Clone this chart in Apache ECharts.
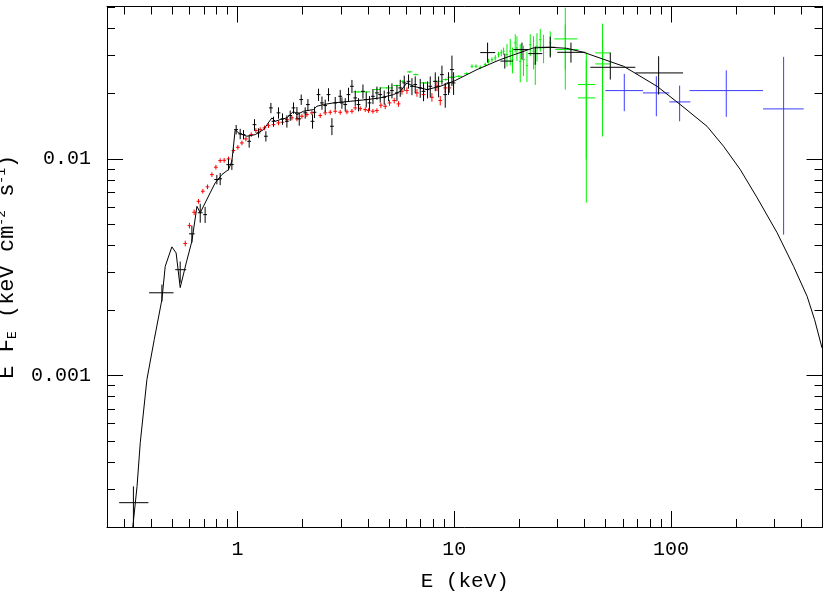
<!DOCTYPE html>
<html>
<head>
<meta charset="utf-8">
<title>E F_E spectrum</title>
<script src="https://cdn.jsdelivr.net/npm/echarts@6/dist/echarts.min.js"></script>
<style>
  html, body { margin: 0; padding: 0; background: #fff; }
  #main { width: 830px; height: 595px; }
</style>
</head>
<body>
<div id="main"></div>
<script>
// model curve (keV, keV cm^-2 s^-1)
var modelE = [0.328, 0.344, 0.356, 0.382, 0.413, 0.448, 0.464, 0.498, 0.521, 0.544, 0.580, 0.616,
  0.650, 0.673, 0.748, 0.789, 0.848, 0.909, 0.942, 0.976, 1.01, 1.105, 1.207, 1.318, 1.441, 1.493,
  1.574, 1.690, 1.813, 1.880, 2.017, 2.242, 2.325, 2.494, 2.773, 3.312, 3.955, 4.555, 5.248, 5.633,
  6.05, 6.49, 7.48, 8.62, 9.93, 11.45, 12.73, 16.31, 23.2, 27.7, 33.1, 39.5, 60.45, 86.19, 110.4,
  146.6, 174.8, 208.8, 249.4, 308.4, 367.9, 424.6, 459.8, 497.6];
var modelF = [0.000195, 0.000308, 0.000491, 0.000959, 0.001466, 0.002244, 0.00319, 0.003926, 0.00368,
  0.002547, 0.00331, 0.00417, 0.00604, 0.00564, 0.00697, 0.00775, 0.00847, 0.00893, 0.00975, 0.01365,
  0.01318, 0.01272, 0.01294, 0.01365, 0.01546, 0.01491, 0.01518, 0.01546, 0.01659, 0.01601, 0.01659,
  0.01689, 0.01749, 0.01781, 0.01813, 0.01844, 0.01878, 0.01912, 0.0198, 0.0205, 0.02242, 0.02163,
  0.02089, 0.02163, 0.0228, 0.02449, 0.02583, 0.02872, 0.03253, 0.03273, 0.03238, 0.03104, 0.02675,
  0.02163, 0.01781, 0.01414, 0.01143, 0.00892, 0.00663, 0.00457, 0.00319, 0.00232, 0.00181, 0.00134];

// small crosses: [E, F, relative error in E, relative error in F]
var blackPts = [
  [0.616, 0.00451, 0.03, 0.09], [0.673, 0.00564, 0.026, 0.1], [0.709, 0.00553, 0.02, 0.085],
  [0.803, 0.00803, 0.027, 0.05], [0.832, 0.00809, 0.02, 0.065], [0.909, 0.00941, 0.022, 0.06],
  [0.942, 0.00941, 0.02, 0.055], [0.986, 0.01365, 0.02, 0.05], [1.029, 0.01304, 0.02, 0.055],
  [1.066, 0.01294, 0.02, 0.05], [1.132, 0.01205, 0.02, 0.065], [1.198, 0.01439, 0.02, 0.06],
  [1.250, 0.01318, 0.02, 0.05], [1.352, 0.01272, 0.02, 0.055], [1.426, 0.01719, 0.02, 0.055],
  [1.466, 0.01491, 0.02, 0.05], [1.546, 0.01631, 0.02, 0.06], [1.613, 0.01530, 0.02, 0.06],
  [1.690, 0.01491, 0.02, 0.065], [1.751, 0.01585, 0.02, 0.055], [1.813, 0.01719, 0.02, 0.06],
  [1.880, 0.01631, 0.02, 0.065], [1.927, 0.01530, 0.02, 0.07], [1.968, 0.01878, 0.02, 0.055],
  [2.053, 0.01631, 0.02, 0.06], [2.113, 0.01781, 0.02, 0.06], [2.219, 0.01491, 0.02, 0.075],
  [2.267, 0.01641, 0.02, 0.06], [2.365, 0.01980, 0.02, 0.065], [2.453, 0.01813, 0.02, 0.07],
  [2.539, 0.01762, 0.02, 0.065], [2.630, 0.01980, 0.02, 0.07], [2.727, 0.01414, 0.02, 0.09],
  [2.824, 0.01813, 0.02, 0.065], [2.978, 0.01945, 0.02, 0.07], [3.032, 0.01813, 0.02, 0.06],
  [3.141, 0.01781, 0.02, 0.07], [3.252, 0.01980, 0.02, 0.075], [3.373, 0.02163, 0.02, 0.07],
  [3.493, 0.01912, 0.02, 0.08], [3.617, 0.01781, 0.02, 0.07], [3.791, 0.02050, 0.02, 0.075],
  [3.926, 0.01878, 0.02, 0.08], [4.066, 0.01813, 0.02, 0.075], [4.216, 0.01945, 0.02, 0.08],
  [4.398, 0.02016, 0.02, 0.07], [4.555, 0.01980, 0.02, 0.08], [4.753, 0.01924, 0.02, 0.075],
  [4.977, 0.02016, 0.02, 0.085], [5.160, 0.02066, 0.02, 0.08], [5.440, 0.02016, 0.02, 0.085],
  [5.634, 0.02126, 0.02, 0.09], [5.879, 0.02242, 0.02, 0.08], [6.154, 0.02280, 0.02, 0.075],
  [6.380, 0.02163, 0.02, 0.09], [6.607, 0.02203, 0.02, 0.09], [6.968, 0.02126, 0.02, 0.1],
  [7.216, 0.02050, 0.02, 0.1], [7.530, 0.02089, 0.02, 0.09], [7.750, 0.02163, 0.02, 0.11],
  [8.175, 0.02280, 0.02, 0.1], [8.468, 0.02163, 0.02, 0.11], [8.775, 0.02449, 0.02, 0.1],
  [9.088, 0.01980, 0.02, 0.13], [9.412, 0.02242, 0.02, 0.12], [9.759, 0.02583, 0.02, 0.16],
  [9.930, 0.02242, 0.02, 0.12]
];
var redPts = [
  [0.574, 0.00407, 0.02, 0.03], [0.600, 0.00492, 0.02, 0.03], [0.631, 0.00567, 0.02, 0.03],
  [0.661, 0.00637, 0.02, 0.025], [0.692, 0.00709, 0.02, 0.025], [0.727, 0.00743, 0.02, 0.025],
  [0.762, 0.00846, 0.02, 0.025], [0.795, 0.00915, 0.02, 0.025], [0.832, 0.00982, 0.02, 0.025],
  [0.868, 0.00985, 0.02, 0.025], [0.909, 0.0100, 0.02, 0.025], [0.958, 0.01092, 0.02, 0.025],
  [1.004, 0.01131, 0.02, 0.025], [1.048, 0.01185, 0.02, 0.025], [1.093, 0.01237, 0.02, 0.025],
  [1.157, 0.01294, 0.02, 0.025], [1.216, 0.01351, 0.02, 0.025], [1.273, 0.01365, 0.02, 0.025],
  [1.332, 0.0139, 0.02, 0.025], [1.390, 0.01424, 0.02, 0.025], [1.466, 0.01439, 0.02, 0.025],
  [1.546, 0.01466, 0.02, 0.025], [1.613, 0.01476, 0.02, 0.025], [1.690, 0.01518, 0.02, 0.025],
  [1.782, 0.01546, 0.02, 0.025], [1.880, 0.0153, 0.02, 0.025], [1.983, 0.01573, 0.02, 0.025],
  [2.091, 0.01601, 0.02, 0.025], [2.204, 0.01631, 0.02, 0.025], [2.408, 0.01585, 0.02, 0.025],
  [2.539, 0.01631, 0.02, 0.025], [2.678, 0.01641, 0.02, 0.025], [2.824, 0.01659, 0.02, 0.025],
  [2.978, 0.01641, 0.02, 0.025], [3.198, 0.01648, 0.02, 0.025], [3.373, 0.01659, 0.02, 0.025],
  [3.493, 0.01719, 0.02, 0.025], [3.684, 0.01706, 0.02, 0.025], [3.885, 0.01689, 0.02, 0.025],
  [4.023, 0.01671, 0.02, 0.025], [4.216, 0.01659, 0.02, 0.025], [4.398, 0.01671, 0.02, 0.025],
  [4.588, 0.01768, 0.02, 0.03], [4.804, 0.01749, 0.02, 0.03], [5.028, 0.01813, 0.02, 0.03],
  [5.285, 0.01858, 0.02, 0.03], [5.534, 0.01794, 0.02, 0.03], [5.737, 0.0205, 0.02, 0.035],
  [6.050, 0.02066, 0.02, 0.035], [6.729, 0.02016, 0.02, 0.04], [7.216, 0.0198, 0.02, 0.045],
  [7.888, 0.01924, 0.02, 0.045], [8.322, 0.02163, 0.02, 0.05], [8.618, 0.01858, 0.02, 0.05],
  [9.088, 0.02126, 0.02, 0.05], [9.513, 0.02126, 0.02, 0.05]
];
var greenPts = [
  [3.606, 0.02038, 0.053, 0.01], [3.947, 0.02038, 0.037, 0.01], [4.389, 0.02089, 0.037, 0.01],
  [4.881, 0.02126, 0.069, 0.01], [5.429, 0.0218, 0.037, 0.01], [5.786, 0.0228, 0.027, 0.01],
  [6.231, 0.02521, 0.027, 0.01], [6.644, 0.02449, 0.027, 0.01], [7.348, 0.02242, 0.053, 0.01],
  [8.441, 0.0228, 0.053, 0.01], [9.137, 0.02323, 0.027, 0.012], [9.687, 0.0238, 0.042, 0.012],
  [10.49, 0.02405, 0.037, 0.012], [11.42, 0.02474, 0.027, 0.015], [12.07, 0.02675, 0.015, 0.02],
  [12.60, 0.02675, 0.015, 0.02], [13.18, 0.02647, 0.015, 0.02], [13.90, 0.02723, 0.015, 0.02],
  [14.40, 0.02821, 0.012, 0.025], [14.93, 0.02872, 0.012, 0.025], [15.46, 0.02925, 0.012, 0.03],
  [16.01, 0.03029, 0.012, 0.03], [16.48, 0.03085, 0.012, 0.035], [16.89, 0.03138, 0.012, 0.04],
  [17.51, 0.03029, 0.012, 0.12], [18.13, 0.03138, 0.012, 0.14], [18.58, 0.02872, 0.012, 0.136],
  [19.12, 0.0343, 0.012, 0.096], [19.47, 0.03253, 0.012, 0.13], [20.16, 0.02821, 0.012, 0.2],
  [20.88, 0.02872, 0.012, 0.16], [21.65, 0.02695, 0.012, 0.16], [22.42, 0.03369, 0.012, 0.116],
  [23.22, 0.03138, 0.012, 0.175], [23.65, 0.02743, 0.012, 0.2], [24.08, 0.03308, 0.012, 0.15],
  [24.94, 0.03552, 0.012, 0.12], [25.83, 0.03253, 0.012, 0.15], [27.73, 0.0343, 0.012, 0.13]
];

// wide bins: [E, F, E low, E high, F low, F high]
var blackBins = [
  [0.331, 0.000259, 0.2845, 0.388, 0.00018, 0.000308],
  [0.448, 0.00241, 0.391, 0.507, 0.002196, 0.00263],
  [0.544, 0.00308, 0.516, 0.580, 0.002687, 0.00336],
  [14.25, 0.03094, 13.18, 15.46, 0.02782, 0.03441],
  [17.11, 0.02827, 16.31, 18.72, 0.02611, 0.03061],
  [20.53, 0.03195, 18.72, 21.95, 0.02872, 0.03441],
  [23.65, 0.03061, 21.95, 25.47, 0.02723, 0.03297],
  [27.73, 0.03273, 24.42, 29.25, 0.02935, 0.03667],
  [34.55, 0.03104, 29.88, 40.23, 0.02782, 0.03441],
  [52.47, 0.02647, 42.43, 68.45, 0.02323, 0.03094],
  [87.69, 0.02493, 68.45, 113.6, 0.0198, 0.02976]
];
var greenBins = [
  [32.53, 0.03579, 28.94, 36.95, 0.02583, 0.0499],
  [32.53, 0.03195, 29.25, 37.39, 0.02089, 0.04168],
  [40.67, 0.02203, 37.23, 44.74, 0.00993, 0.03094],
  [40.67, 0.01912, 37.23, 44.74, 0.00628, 0.02872],
  [48.35, 0.03085, 44.74, 52.47, 0.01878, 0.04212],
  [48.35, 0.02743, 44.74, 52.47, 0.01268, 0.03552]
];
var blueBins = [
  [60.88, 0.02066, 49.76, 74.27, 0.01659, 0.02467],
  [85.57, 0.02016, 74.27, 98.22, 0.01573, 0.02405],
  [109.6, 0.01832, 98.22, 122.8, 0.01491, 0.0218],
  [179.9, 0.02066, 121.8, 265.9, 0.01563, 0.02563],
  [330.8, 0.01701, 265.9, 409.3, 0.00447, 0.02956]
];

// ticks
var xMajor = [1, 10, 100];
var xMinor = [0.3, 0.4, 0.5, 0.6, 0.7, 0.8, 0.9, 2, 3, 4, 5, 6, 7, 8, 9,
  20, 30, 40, 50, 60, 70, 80, 90, 200, 300, 400];
var yMajor = [0.001, 0.01];
var yMinor = [0.0003, 0.0004, 0.0005, 0.0006, 0.0007, 0.0008, 0.0009,
  0.002, 0.003, 0.004, 0.005, 0.006, 0.007, 0.008, 0.009, 0.02, 0.03, 0.04, 0.05];

var FONT = 'Liberation Mono';
var X_MIN = 0.25, X_MAX = 500, Y_MIN = 0.0002, Y_MAX = 0.0505;

function toBounds(pts) {
  return pts.map(function (p) {
    return [p[0], p[1], p[0] * (1 - p[2]), p[0] * (1 + p[2]), p[1] * (1 - p[3]), p[1] * (1 + p[3])];
  });
}

function crossSeries(data, color) {
  return {
    type: 'custom',
    xAxisIndex: 0,
    yAxisIndex: 0,
    clip: true,
    silent: true,
    data: data,
    encode: { x: 0, y: 1 },
    renderItem: function (params, api) {
      var c = api.coord([api.value(0), api.value(1)]);
      var l = api.coord([api.value(2), api.value(1)]);
      var r = api.coord([api.value(3), api.value(1)]);
      var b = api.coord([api.value(0), api.value(4)]);
      var t = api.coord([api.value(0), api.value(5)]);
      return {
        type: 'group',
        children: [
          { type: 'line', shape: { x1: l[0], y1: c[1], x2: r[0], y2: c[1] }, style: { stroke: color, lineWidth: 1 } },
          { type: 'line', shape: { x1: c[0], y1: b[1], x2: c[0], y2: t[1] }, style: { stroke: color, lineWidth: 1 } }
        ]
      };
    }
  };
}

function numLabel(v) {
  return String(+Number(v).toPrecision(3));
}

// one axis per tick set, so major and minor ticks get their own length
function xAx(pos, ticks, len, withLine, withLabel) {
  return {
    type: 'log', logBase: 10, min: X_MIN, max: X_MAX, position: pos,
    axisLine: { show: withLine, onZero: false, lineStyle: { color: '#000', width: 1 } },
    axisTick: { show: true, inside: true, length: len, customValues: ticks, lineStyle: { color: '#000', width: 1 } },
    axisLabel: withLabel ? { show: true, customValues: ticks, formatter: numLabel, margin: 13,
      fontFamily: FONT, fontSize: 20, color: '#000' } : { show: false },
    splitLine: { show: false },
    minorTick: { show: false }
  };
}
function yAx(pos, ticks, len, withLine, withLabel) {
  return {
    type: 'log', logBase: 10, min: Y_MIN, max: Y_MAX, position: pos,
    axisLine: { show: withLine, onZero: false, lineStyle: { color: '#000', width: 1 } },
    axisTick: { show: true, inside: true, length: len, customValues: ticks, lineStyle: { color: '#000', width: 1 } },
    axisLabel: withLabel ? { show: true, customValues: ticks, formatter: numLabel, margin: 16,
      fontFamily: FONT, fontSize: 20, color: '#000' } : { show: false },
    splitLine: { show: false },
    minorTick: { show: false }
  };
}

var xBottom = xAx('bottom', xMajor, 16, true, true);
xBottom.name = 'E (keV)';
xBottom.nameLocation = 'middle';
xBottom.nameGap = 44;
xBottom.nameTextStyle = { fontFamily: FONT, fontSize: 21, color: '#000' };

var yLeft = yAx('left', yMajor, 16, true, true);
yLeft.name = '{n|E F}{sub|E}{n| (keV cm}{sup|-2}{n| s}{sup|-1}{n|)}';
yLeft.nameLocation = 'middle';
yLeft.nameGap = 88;
yLeft.nameTextStyle = {
  fontFamily: FONT, fontSize: 22, color: '#000',
  rich: {
    n: { fontFamily: FONT, fontSize: 22, lineHeight: 24, color: '#000' },
    sub: { fontFamily: FONT, fontSize: 13, lineHeight: 12, verticalAlign: 'bottom', color: '#000' },
    sup: { fontFamily: FONT, fontSize: 13, lineHeight: 12, verticalAlign: 'top', color: '#000' }
  }
};

var chart = echarts.init(document.getElementById('main'), null, { renderer: 'canvas' });
chart.setOption({
  animation: false,
  backgroundColor: '#fff',
  textStyle: { fontFamily: FONT },
  grid: { left: 107, top: 6.5, width: 715.5, height: 520.5, containLabel: false, outerBoundsMode: 'none' },
  xAxis: [
    xBottom,
    xAx('bottom', xMinor, 8, false, false),
    xAx('top', xMajor, 16, true, false),
    xAx('top', xMinor, 8, false, false)
  ],
  yAxis: [
    yLeft,
    yAx('left', yMinor, 8, false, false),
    yAx('right', yMajor, 16, true, false),
    yAx('right', yMinor, 8, false, false)
  ],
  series: [
    crossSeries(toBounds(redPts), '#ff0000'),
    crossSeries(toBounds(greenPts), '#00f000'),
    crossSeries(greenBins, '#00f000'),
    crossSeries(blueBins, '#3c3cff'),
    crossSeries(toBounds(blackPts), '#000000'),
    crossSeries(blackBins, '#000000'),
    {
      type: 'line',
      xAxisIndex: 0,
      yAxisIndex: 0,
      showSymbol: false,
      symbol: 'none',
      silent: true,
      clip: true,
      lineStyle: { color: '#000', width: 1 },
      data: modelE.map(function (e, i) { return [e, modelF[i]]; }),
      z: 4
    }
  ]
});
</script>
</body>
</html>
